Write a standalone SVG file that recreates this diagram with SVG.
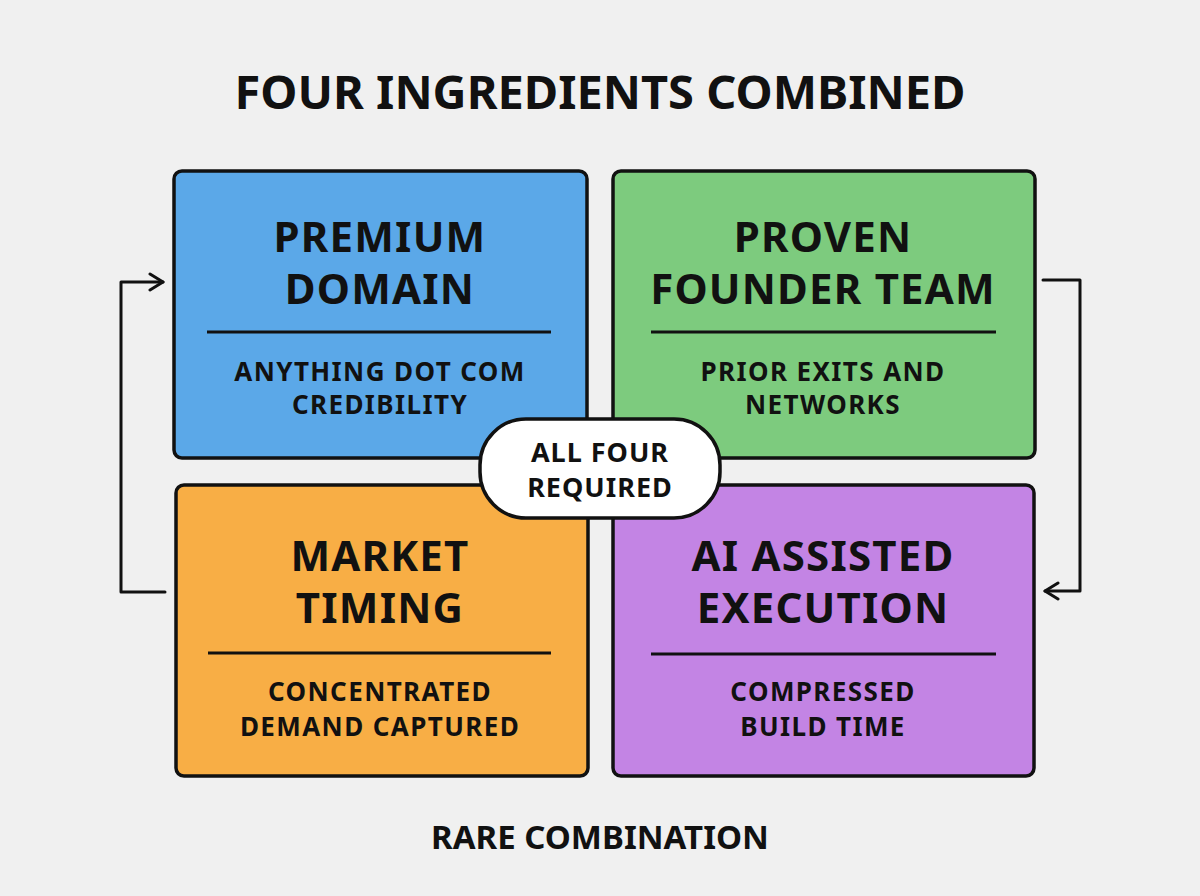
<svg xmlns="http://www.w3.org/2000/svg" width="1200" height="896" viewBox="0 0 1200 896">
<defs>
<style>
text{font-family:"Noto Sans","Open Sans",sans-serif;font-weight:700;fill:#111;text-anchor:middle}
.title{font-size:47px}
.head{font-size:42px;letter-spacing:1.2px}
.sub{font-size:26px;letter-spacing:1.4px}
.pill{font-size:27px;letter-spacing:1px}
.foot{font-size:33px}
.box{stroke:#111;stroke-width:3.5}
.div{stroke:#111;stroke-width:3}
.conn{fill:none;stroke:#111;stroke-width:3;stroke-linejoin:round;stroke-linecap:round}
</style>
<marker id="arr" viewBox="0 0 20 20" refX="17" refY="10" markerWidth="20" markerHeight="20" markerUnits="userSpaceOnUse" orient="auto">
<path d="M4 2 L17 10 L4 18" fill="none" stroke="#111" stroke-width="3" stroke-linecap="round" stroke-linejoin="round"/>
</marker>
</defs>
<rect width="1200" height="896" fill="#F0F0F0"/>
<text class="title" x="600" y="109">FOUR INGREDIENTS COMBINED</text>
<g id="connectors">
<path class="conn" d="M165 592 H121 V282 H163" marker-end="url(#arr)"/>
<path class="conn" d="M1043 280 H1080 V591 H1045" marker-end="url(#arr)"/>
</g>
<g id="premium-domain">
<rect class="box" x="174" y="171" width="413" height="287" rx="8" fill="#5BA8E8"/>
<text class="head" x="380" y="252">PREMIUM</text>
<text class="head" x="380" y="304">DOMAIN</text>
<line class="div" x1="207" y1="332" x2="551" y2="332"/>
<text class="sub" x="380" y="381">ANYTHING DOT COM</text>
<text class="sub" x="380" y="414">CREDIBILITY</text>
</g>
<g id="proven-founder-team">
<rect class="box" x="613" y="171" width="422" height="287" rx="8" fill="#7DCB7E"/>
<text class="head" x="823" y="252">PROVEN</text>
<text class="head" x="823" y="304">FOUNDER TEAM</text>
<line class="div" x1="651" y1="332" x2="996" y2="332"/>
<text class="sub" x="823" y="381">PRIOR EXITS AND</text>
<text class="sub" x="823" y="414">NETWORKS</text>
</g>
<g id="market-timing">
<rect class="box" x="176" y="485" width="412" height="291" rx="8" fill="#F8AE45"/>
<text class="head" x="380" y="571">MARKET</text>
<text class="head" x="380" y="623">TIMING</text>
<line class="div" x1="208" y1="653" x2="551" y2="653"/>
<text class="sub" x="380" y="701">CONCENTRATED</text>
<text class="sub" x="380" y="736">DEMAND CAPTURED</text>
</g>
<g id="ai-assisted-execution">
<rect class="box" x="613" y="485" width="421" height="291" rx="8" fill="#C384E4"/>
<text class="head" x="823" y="571">AI ASSISTED</text>
<text class="head" x="823" y="623">EXECUTION</text>
<line class="div" x1="651" y1="654" x2="996" y2="654"/>
<text class="sub" x="823" y="701">COMPRESSED</text>
<text class="sub" x="823" y="736">BUILD TIME</text>
</g>
<g id="all-four-required">
<rect x="480" y="419" width="240" height="99" rx="46" fill="#FFFFFF" stroke="#111" stroke-width="3.5"/>
<text class="pill" x="600" y="462">ALL FOUR</text>
<text class="pill" x="600" y="497">REQUIRED</text>
</g>
<text class="foot" x="600" y="849">RARE COMBINATION</text>
</svg>
